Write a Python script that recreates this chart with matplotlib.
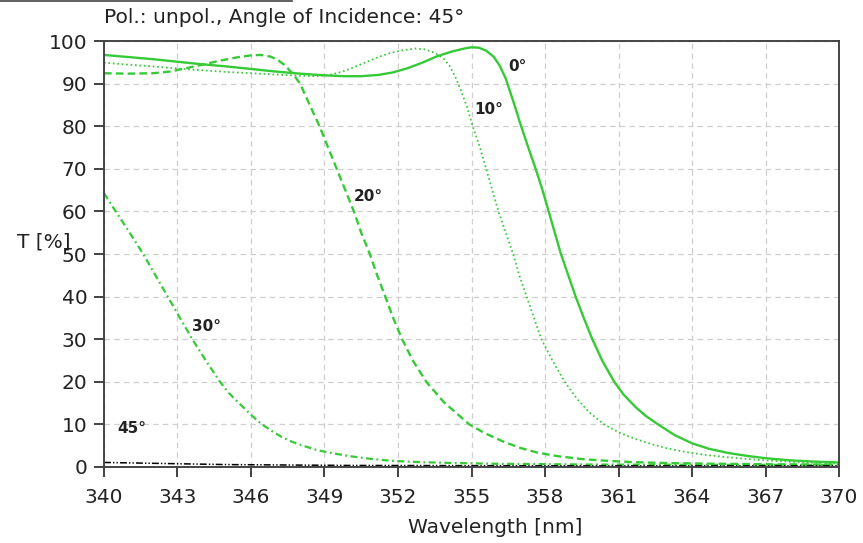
import numpy as np
import matplotlib
matplotlib.use("Agg")
import matplotlib.pyplot as plt
from matplotlib.lines import Line2D

# Transmission curves, one per angle of incidence
wl_0 = [340, 341, 342, 343, 344, 345, 346, 347, 348, 349, 349.8, 350.5, 351.2,
        351.8, 352.4, 353, 353.6, 354.2, 354.7, 355.0, 355.3, 355.6, 355.9, 356.15,
        356.4, 356.7, 357.0, 357.32, 357.62, 357.9, 358.15, 358.4, 358.65,
        358.95, 359.25, 359.58, 359.93, 360.33, 360.82, 361.2, 361.7, 362.1, 362.6,
        363.3, 364, 364.7, 365.5, 366.3, 367, 368, 369, 370]
t_0 = [96.8, 96.3, 95.8, 95.2, 94.6, 94.1, 93.5, 92.9, 92.4, 92.0, 91.8, 91.8, 92.1,
       92.7, 93.7, 95.0, 96.5, 97.6, 98.3, 98.6, 98.5, 97.8, 96.4, 94.3,
       91.2, 86, 80.5, 75, 70, 65, 60, 55, 50,
       45, 40, 35, 30, 25, 20, 17, 14, 12, 10,
       7.4, 5.5, 4.2, 3.2, 2.5, 2.0, 1.5, 1.2, 1.0]

wl_10 = [340, 341, 342, 343, 344, 345, 346, 347, 348, 348.6, 349.2, 349.7, 350.2,
         350.7, 351.2, 351.7, 352.2, 352.7, 353.1, 353.5, 353.85, 354.1, 354.35,
         354.6, 354.85, 355.05, 355.35, 355.6, 355.85, 356.1, 356.4, 356.7, 356.95,
         357.25, 357.55, 357.85, 358.3, 358.8, 359.3, 359.8, 360.4, 361, 361.6,
         362.3, 363, 363.7, 364.5, 365.5, 366.5, 367.5, 368.7, 370]
t_10 = [95.0, 94.5, 94.1, 93.6, 93.2, 92.8, 92.5, 92.2, 91.9, 91.8, 92.1, 92.8, 93.9,
        95.1, 96.3, 97.3, 97.9, 98.3, 98.1, 97.3, 96.0, 94.3, 91.5,
        88, 84, 80, 75, 70, 65, 60, 55, 50, 45,
        40, 35, 30, 25, 20, 16, 12.8, 10, 8.1, 6.7,
        5.4, 4.3, 3.5, 2.8, 2.2, 1.7, 1.3, 1.0, 0.8]

wl_20 = [340, 341, 342, 342.7, 343.3, 344, 344.7, 345.4, 346.0, 346.4, 346.8, 347.1,
         347.4, 347.7, 348.0, 348.4, 348.8, 349.15, 349.5, 349.85, 350.2, 350.5,
         350.85, 351.15, 351.48, 351.8, 352.15, 352.6, 353.15, 353.85, 354.4, 354.9,
         355.5, 356.3, 357.0, 357.7, 358.5, 359.5, 360.5, 361.5, 363, 365, 367.5, 370]
t_20 = [92.5, 92.4, 92.5, 92.9, 93.6, 94.5, 95.4, 96.2, 96.7, 96.8, 96.4, 95.6,
        94.3, 92.4, 90.1, 85, 80, 75, 70, 65, 60, 55,
        50, 45, 40, 35, 30.2, 25, 20, 15.3, 12.5, 10,
        8.0, 5.9, 4.4, 3.3, 2.5, 1.8, 1.4, 1.1, 0.85, 0.7, 0.55, 0.5]

wl_30 = [340, 340.48, 341.05, 341.6, 342.1, 342.6, 343.1, 343.6, 344.15, 344.73,
         345.1, 345.5, 346, 346.43, 346.85, 347.25, 347.7, 348.2, 348.7, 349.3,
         350, 350.8, 351.7, 352.8, 354, 356, 360, 365, 370]
t_30 = [64.3, 60, 55, 50, 45, 40, 35, 30, 25, 20,
        17.3, 15, 12.2, 10, 8.4, 7.0, 5.8, 4.8, 3.9, 3.2,
        2.5, 1.9, 1.4, 1.1, 0.9, 0.7, 0.5, 0.45, 0.4]

wl_45 = [340, 342, 345, 350, 360, 370]
t_45 = [1.0, 0.8, 0.5, 0.3, 0.2, 0.2]

# curve labels: text, x, y
labels = [("0°", 356.5, 94), ("10°", 355.1, 84), ("20°", 350.2, 63.5),
          ("30°", 343.6, 33), ("45°", 340.55, 9)]

xticks = np.arange(340, 371, 3)
yticks = np.arange(0, 101, 10)

green = "#36ca36"

plt.rcParams["font.family"] = "DejaVu Sans"
plt.rcParams["lines.scale_dashes"] = False

fig = plt.figure(figsize=(8.63, 5.43), dpi=100)
ax = fig.add_axes([0.1205, 0.1405, 0.8517, 0.7834])

ax.plot(wl_0, t_0, color=green, lw=1.7, linestyle="-")
ax.plot(wl_10, t_10, color=green, lw=1.3, linestyle=(0, (1.2, 2.0)))
ax.plot(wl_20, t_20, color=green, lw=1.7, linestyle=(0, (5.5, 3)))
ax.plot(wl_30, t_30, color=green, lw=1.6, linestyle=(0, (5, 2.5, 1.3, 2.5)))
ax.plot(wl_45, t_45, color="black", lw=1.1, linestyle=(0, (5, 1.5, 1, 1.5, 1, 1.5)))

for txt, x, y in labels:
    ax.text(x, y, txt, fontsize=11, fontweight="bold", color="#222222",
            ha="left", va="center")

ax.set_xlim(340, 370)
ax.set_ylim(0, 100)
ax.set_xticks(xticks)
ax.set_yticks(yticks)
ax.grid(True, color="#cfcfcf", linestyle=(0, (4, 3)), lw=0.9)
ax.set_axisbelow(True)

ax.tick_params(direction="out", length=7, width=1.3, colors="#333333",
               labelsize=14.5, labelcolor="#222222")
ax.tick_params(axis="x", pad=8)
ax.tick_params(axis="y", pad=5)
for s in ax.spines.values():
    s.set_color("#444444")
    s.set_linewidth(1.4)

ax.set_title("Pol.: unpol., Angle of Incidence: 45°", loc="left", fontsize=14.5,
             color="#222222", pad=13)
ax.set_xlabel("Wavelength [nm]", fontsize=14.5, color="#222222", va="center")
ax.xaxis.set_label_coords(0.532, -0.143)
ax.set_ylabel("T [%]", fontsize=14.5, color="#222222", rotation=0,
              ha="center", va="center")
ax.yaxis.set_label_coords(-0.082, 0.528)

# cut-off header rule at the very top of the picture
fig.add_artist(Line2D([0, 0.338], [0.998, 0.998], color="#444444", lw=1.2))

fig.savefig("out.png", dpi=100)
